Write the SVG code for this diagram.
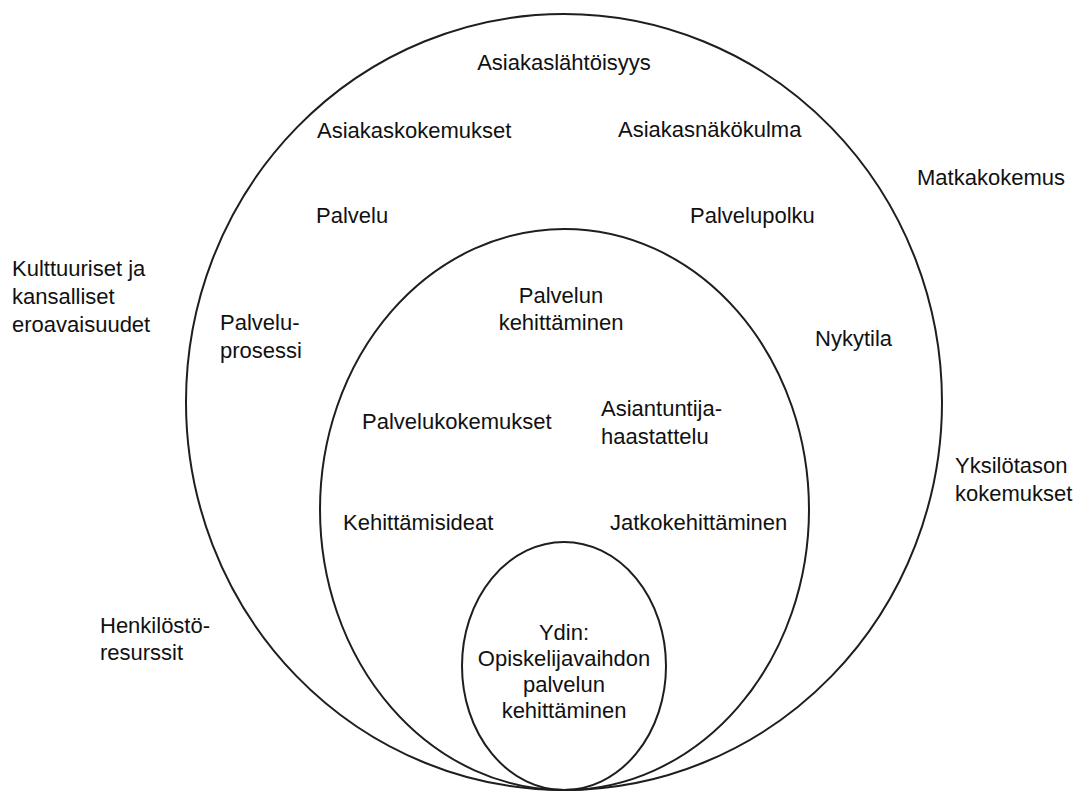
<svg xmlns="http://www.w3.org/2000/svg" width="1075" height="792" viewBox="0 0 1075 792">
  <style>
    .ring { fill: none; stroke: #1e1e1e; stroke-width: 2; }
    text { font-family: "Liberation Sans", Arial, sans-serif; font-size: 22px; fill: #111; }
    .mid { text-anchor: middle; }
  </style>
  <rect width="1075" height="792" fill="#fff"/>

  <!-- nested circles, all touching at the bottom -->
  <g id="outer-ring"><ellipse class="ring" cx="564" cy="402" rx="378" ry="388"/></g>
  <g id="middle-ring"><ellipse class="ring" cx="564.5" cy="509.5" rx="244.5" ry="280.5"/></g>
  <g id="core-ring"><ellipse class="ring" cx="564" cy="666" rx="102" ry="124"/></g>
  <g id="connectors"></g>

  <!-- outside the circles -->
  <g id="kulttuuriset"><text x="12" y="276">Kulttuuriset ja</text><text x="12" y="304">kansalliset</text><text x="12" y="332">eroavaisuudet</text></g>
  <g id="henkilosto"><text x="100" y="633">Henkilöstö-</text><text x="100" y="660">resurssit</text></g>
  <g id="matkakokemus"><text x="917" y="185">Matkakokemus</text></g>
  <g id="yksilotaso"><text x="955" y="473">Yksilötason</text><text x="955" y="501">kokemukset</text></g>

  <!-- outer ring -->
  <g id="asiakaslahtoisyys"><text class="mid" x="564" y="70">Asiakaslähtöisyys</text></g>
  <g id="asiakaskokemukset"><text x="317" y="138">Asiakaskokemukset</text></g>
  <g id="asiakasnakokulma"><text x="618" y="137">Asiakasnäkökulma</text></g>
  <g id="palvelu"><text x="316" y="223">Palvelu</text></g>
  <g id="palvelupolku"><text x="690" y="223">Palvelupolku</text></g>
  <g id="palveluprosessi"><text x="220" y="330">Palvelu-</text><text x="220" y="358">prosessi</text></g>
  <g id="nykytila"><text x="815" y="346">Nykytila</text></g>

  <!-- middle ring -->
  <g id="palvelun-kehittaminen"><text class="mid" x="561" y="303">Palvelun</text><text class="mid" x="561" y="330">kehittäminen</text></g>
  <g id="palvelukokemukset"><text x="362" y="429">Palvelukokemukset</text></g>
  <g id="asiantuntija"><text x="601" y="416">Asiantuntija-</text><text x="601" y="444">haastattelu</text></g>
  <g id="kehittamisideat"><text x="343" y="530">Kehittämisideat</text></g>
  <g id="jatkokehittaminen"><text x="610" y="530">Jatkokehittäminen</text></g>

  <!-- core -->
  <g id="ydin"><text class="mid" x="564" y="640">Ydin:</text><text class="mid" x="564" y="666">Opiskelijavaihdon</text><text class="mid" x="564" y="692">palvelun</text><text class="mid" x="564" y="718">kehittäminen</text></g>
</svg>
